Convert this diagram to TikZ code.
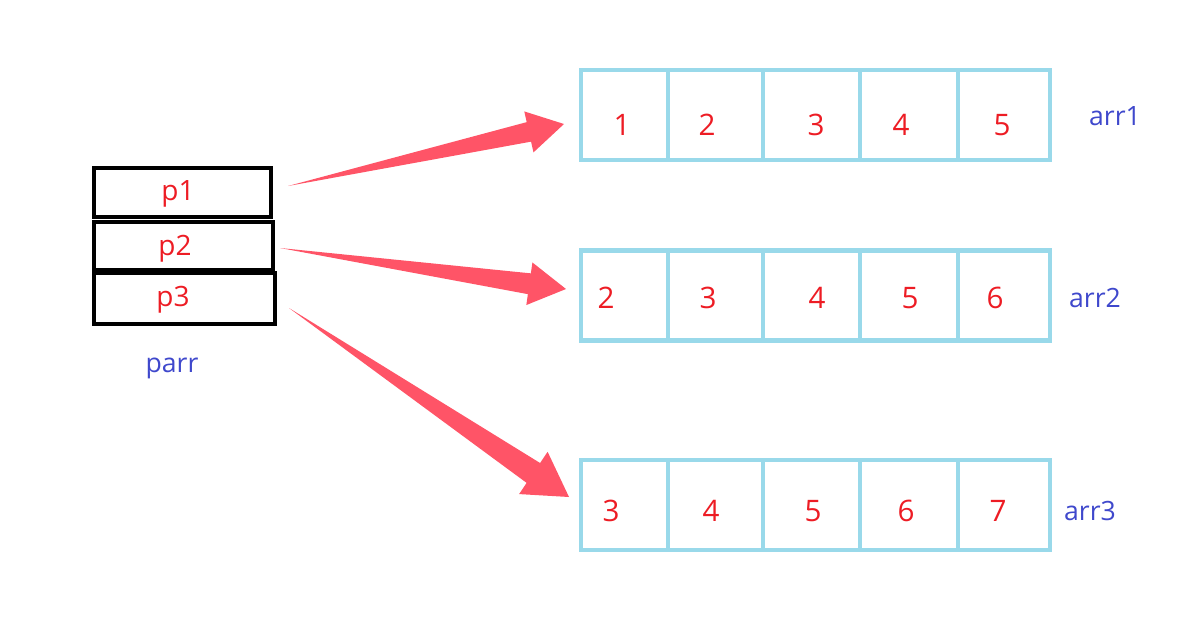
\documentclass[tikz,border=0pt]{standalone}
\usepackage{fontspec}
\setmainfont{Open Sans}
\usetikzlibrary{calc}
\definecolor{cellblue}{HTML}{99D9EA}
\definecolor{numred}{HTML}{ED1C24}
\definecolor{lblblue}{HTML}{3F48CC}
\definecolor{arrred}{HTML}{FF5467}
% tail, tip, head length, head half width, shaft half width
\newcommand{\fatarrow}[5]{%
  \fill[arrred] (#1)
    -- ($(#2)!#3!(#1)!#5!-90:(#1)$)
    -- ($(#2)!#3!(#1)!#4!-90:(#1)$)
    -- (#2)
    -- ($(#2)!#3!(#1)!#4!90:(#1)$)
    -- ($(#2)!#3!(#1)!#5!90:(#1)$)
    -- cycle;}
\begin{document}
\begin{tikzpicture}[x=0.5pt,y=-0.5pt,
  ptrbox/.style={draw=black,line width=2.3pt,inner sep=0pt},
  ptrtxt/.style={text=numred,inner sep=0pt,font=\fontsize{14}{17}\selectfont},
  cell/.style={draw=cellblue,line width=2.2pt,inner sep=0pt,minimum height=45pt},
  num/.style={text=numred,inner sep=0pt,font=\fontsize{14.8}{17}\selectfont},
  lbl/.style={text=lblblue,inner sep=0pt,font=\fontsize{13.3}{16}\selectfont}]
\useasboundingbox (0,0) rectangle (1179,633);
% pointer array
\node[ptrbox,minimum width=88.5pt,minimum height=24.5pt] (p1) at (182.5,192.5) {};
\node[ptrbox,minimum width=89.5pt,minimum height=24pt] (p2) at (183.5,246) {};
\node[ptrbox,minimum width=90.5pt,minimum height=25.5pt] (p3) at (184.5,298.5) {};
\node[ptrtxt] (p1t) at (178,194) {p1};
\node[ptrtxt] (p2t) at (175,249) {p2};
\node[ptrtxt] (p3t) at (173,300) {p3};
\node[lbl] (parr) at (172,368) {parr};
% arrays
\foreach \r/\yc in {1/115,2/295.5,3/505}{
  \node[cell,minimum width=43.5pt] (a\r c1) at (624.5,\yc) {};
  \node[cell,minimum width=47.5pt] (a\r c2) at (715.5,\yc) {};
  \node[cell,minimum width=48.5pt] (a\r c3) at (811.5,\yc) {};
  \node[cell,minimum width=49pt] (a\r c4) at (909,\yc) {};
  \node[cell,minimum width=46pt] (a\r c5) at (1004,\yc) {};
}
\node[num] (n11) at (622,125) {1};
\node[num] (n12) at (707,125) {2};
\node[num] (n13) at (816,125) {3};
\node[num] (n14) at (901,125) {4};
\node[num] (n15) at (1002,125) {5};
\node[num] (n21) at (606,298) {2};
\node[num] (n22) at (708,298) {3};
\node[num] (n23) at (817,298) {4};
\node[num] (n24) at (910,298) {5};
\node[num] (n25) at (995,298) {6};
\node[num] (n31) at (611,511) {3};
\node[num] (n32) at (711,511) {4};
\node[num] (n33) at (813,511) {5};
\node[num] (n34) at (906,511) {6};
\node[num] (n35) at (998,511) {7};
\node[lbl] (arr1) at (1115,116) {arr1};
\node[lbl] (arr2) at (1095,298) {arr2};
\node[lbl] (arr3) at (1090,511) {arr3};
% arrows
\coordinate (t1) at (288,186); \coordinate (h1) at (564,124);
\coordinate (t2) at (280,248); \coordinate (h2) at (566,289);
\coordinate (t3) at (289,308); \coordinate (h3) at (569,497);
\fatarrow{t1}{h1}{18pt}{10.5pt}{5pt}
\fatarrow{t2}{h2}{18.5pt}{10.75pt}{5.25pt}
\fatarrow{t3}{h3}{21.5pt}{12.75pt}{6pt}
\end{tikzpicture}
\end{document}
